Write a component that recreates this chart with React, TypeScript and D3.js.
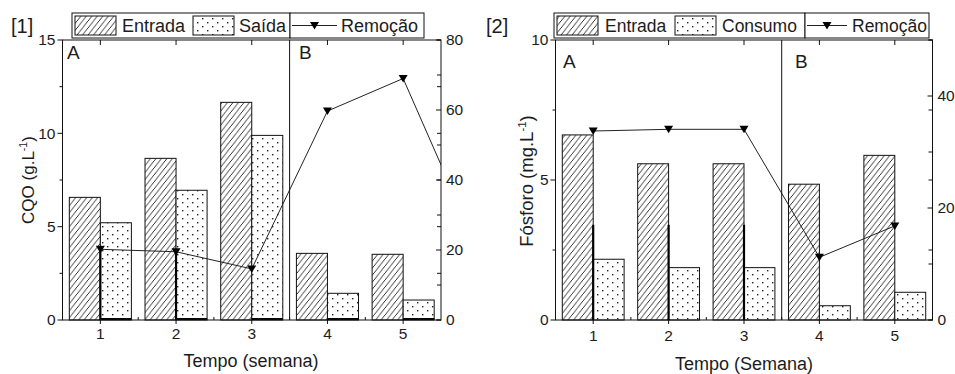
import React from 'react';
import * as d3 from 'd3';

// ---------- data ----------
const weeks = [1, 2, 3, 4, 5];

const cqoEntrada = [6.57, 8.66, 11.66, 3.57, 3.52];
const cqoSaida = [5.21, 6.95, 9.89, 1.43, 1.07];
const cqoRemocaoWeeks = [1, 2, 3, 4, 5, 6];
const cqoRemocao = [20.2, 19.5, 14.6, 59.7, 69.0, 19.7];
const cqoDropWeeks = [1, 2];

const fosEntrada = [6.61, 5.58, 5.58, 4.85, 5.88];
const fosConsumo = [2.17, 1.87, 1.87, 0.51, 0.99];
const fosRemocaoWeeks = [1, 2, 3, 4, 5];
const fosRemocao = [33.75, 34.05, 34.05, 11.2, 16.8];
const fosDropWeeks = [1, 2, 3];
const fosDropTop = 3.4; // thick edge starts here (left-axis units)

const cqoLeftTicks = [0, 5, 10, 15];
const cqoLeftMinor = [2.5, 7.5, 12.5];
const cqoRightTicks = [0, 20, 40, 60, 80];
const cqoRightMinor = [10, 30, 50, 70];

const fosLeftTicks = [0, 5, 10];
const fosLeftMinor = [2.5, 7.5];
const fosRightTicks = [0, 20, 40];
const fosRightMinor = [10, 30, 50];

const FONT = '"Liberation Sans", Arial, Helvetica, sans-serif';
const INK = '#1c1c1c';

type PanelProps = {
  id: string;
  left: number; right: number; top: number; bottom: number;
  leftDomain: [number, number]; rightDomain: [number, number];
  leftTicks: number[]; leftMinor: number[]; rightTicks: number[]; rightMinor: number[];
  entrada: number[]; saida: number[]; remWeeks: number[]; rem: number[]; drops: number[];
  dropTop: number | null;
  thickSaidaBottom: boolean;
  tag: string; tagX: number; tagY: number;
  abY: number; aX: number; bX: number; abSize: number;
  xTitle: string; xTitleX: number; xTitleY: number; xTickY: number;
  yTitle: string; yUnit: string; yTitleX: number; yTitleY: number; yTitleSize: number;
  legend: { x0: number; x1: number; div: number; y0: number; y1: number; sw1: number; t1x: number; sw2: number; t2x: number; lineX0: number; lineX1: number; t3x: number; size: number };
  name2: string;
};

function Panel(p: PanelProps) {
  const x = d3.scaleLinear().domain([0.5, 5.5]).range([p.left, p.right]);
  const y = d3.scaleLinear().domain(p.leftDomain).range([p.bottom, p.top]);
  const y2 = d3.scaleLinear().domain(p.rightDomain).range([p.bottom, p.top]);
  const step = x(2) - x(1);
  const bw = step * 0.41;
  const pts: [number, number][] = p.remWeeks.map((w, i) => [w, p.rem[i]]);
  const line = d3.line<[number, number]>().x(d => x(d[0])).y(d => y2(d[1]));
  const halfTicks = d3.range(1.5, 5.5, 1);
  const lg = p.legend;
  const lgMid = (lg.y0 + lg.y1) / 2;
  return (
    <g fontFamily={FONT} fill={INK}>
      <defs>
        <clipPath id={`clip-${p.id}`}>
          <rect x={p.left} y={p.top} width={p.right - p.left} height={p.bottom - p.top} />
        </clipPath>
      </defs>
      {/* bars */}
      {weeks.map((w, i) => (
        <g key={`b${w}`}>
          <rect x={x(w) - bw} y={y(p.entrada[i])} width={bw} height={y(0) - y(p.entrada[i])}
            fill="url(#hatch)" stroke="#111" strokeWidth={1} />
          <rect x={x(w)} y={y(p.saida[i])} width={bw} height={y(0) - y(p.saida[i])}
            fill="url(#dots)" stroke="#111" strokeWidth={1} />
          {p.thickSaidaBottom && (
            <line x1={x(w)} x2={x(w) + bw} y1={y(0) - 1} y2={y(0) - 1} stroke="#000" strokeWidth={2} />
          )}
        </g>
      ))}
      {/* drop lines */}
      {p.drops.map(w => (
        <line key={`d${w}`} x1={x(w)} x2={x(w)}
          y1={p.dropTop === null ? y2(p.rem[p.remWeeks.indexOf(w)]) : y(p.dropTop)} y2={y2(0)}
          stroke="#000" strokeWidth={2.2} />
      ))}
      {/* removal line */}
      <g clipPath={`url(#clip-${p.id})`}>
        <path d={line(pts) || ''} fill="none" stroke="#222" strokeWidth={1} />
        {pts.map((d, i) => (
          <path key={`m${i}`} transform={`translate(${x(d[0])},${y2(d[1])})`}
            d="M-4.5,-3.5 L4.5,-3.5 L0,4 Z" fill="#000" />
        ))}
      </g>
      {/* frame */}
      <rect x={p.left} y={p.top} width={p.right - p.left} height={p.bottom - p.top}
        fill="none" stroke="#111" strokeWidth={1} />
      <line x1={x(3.5)} x2={x(3.5)} y1={p.top} y2={p.bottom} stroke="#111" strokeWidth={1} />
      {/* bottom axis ticks */}
      {weeks.map(w => (
        <g key={`xt${w}`}>
          <line x1={x(w)} x2={x(w)} y1={p.bottom} y2={p.bottom + 4} stroke="#111" />
          <line x1={x(w)} x2={x(w)} y1={p.top} y2={p.top + 5} stroke="#111" />
          <text x={x(w)} y={p.xTickY} textAnchor="middle" fontSize={15.5}>{w}</text>
        </g>
      ))}
      {halfTicks.map(h => (
        <g key={`xh${h}`}>
          <line x1={x(h)} x2={x(h)} y1={p.bottom} y2={p.bottom - 3} stroke="#111" />
        </g>
      ))}
      {/* left axis */}
      {p.leftTicks.map(t => (
        <g key={`yl${t}`}>
          <line x1={p.left - 5} x2={p.left} y1={y(t)} y2={y(t)} stroke="#111" />
          <line x1={p.right - 4} x2={p.right} y1={y(t)} y2={y(t)} stroke="#111" />
          <text x={p.left - 7} y={y(t)} dy="0.35em" textAnchor="end" fontSize={15.5}>{t}</text>
        </g>
      ))}
      {p.leftMinor.map(t => (
        <g key={`ylm${t}`}>
          <line x1={p.left - 3} x2={p.left} y1={y(t)} y2={y(t)} stroke="#111" />
          <line x1={p.right - 4} x2={p.right} y1={y(t)} y2={y(t)} stroke="#111" />
        </g>
      ))}
      {/* right axis */}
      {p.rightTicks.map(t => (
        <g key={`yr${t}`}>
          <line x1={p.right - 5} x2={p.right} y1={y2(t)} y2={y2(t)} stroke="#111" />
          <text x={p.right + 5} y={y2(t)} dy="0.35em" textAnchor="start" fontSize={15.5}>{t}</text>
        </g>
      ))}
      {p.rightMinor.map(t => (
        <line key={`yrm${t}`} x1={p.right - 4} x2={p.right} y1={y2(t)} y2={y2(t)} stroke="#111" />
      ))}
      {/* panel letters */}
      <text x={p.aX} y={p.abY} fontSize={p.abSize}>A</text>
      <text x={p.bX} y={p.abY} fontSize={p.abSize}>B</text>
      {/* tag */}
      <text x={p.tagX} y={p.tagY} fontSize={20}>{p.tag}</text>
      {/* titles */}
      <text x={p.xTitleX} y={p.xTitleY} textAnchor="middle" fontSize={18}>{p.xTitle}</text>
      <text transform={`translate(${p.yTitleX},${p.yTitleY}) rotate(-90)`} textAnchor="middle" fontSize={p.yTitleSize}>
        {p.yTitle} ({p.yUnit}<tspan dy={-7} fontSize={p.yTitleSize * 0.62}>-1</tspan><tspan dy={7}>)</tspan>
      </text>
      {/* legend */}
      <rect x={lg.x0} y={lg.y0} width={lg.div - lg.x0} height={lg.y1 - lg.y0} fill="#fff" stroke="#111" />
      <rect x={lg.div} y={lg.y0} width={lg.x1 - lg.div} height={lg.y1 - lg.y0} fill="#fff" stroke="#111" />
      <rect x={lg.sw1} y={lg.y0 + 3} width={41} height={lg.y1 - lg.y0 - 6} fill="url(#hatch)" stroke="#111" />
      <text x={lg.t1x} y={lgMid} dy="0.36em" fontSize={lg.size}>Entrada</text>
      <rect x={lg.sw2} y={lg.y0 + 3} width={41} height={lg.y1 - lg.y0 - 6} fill="url(#dots)" stroke="#111" />
      <text x={lg.t2x} y={lgMid} dy="0.36em" fontSize={lg.size}>{p.name2}</text>
      <line x1={lg.lineX0} x2={lg.lineX1} y1={lgMid} y2={lgMid} stroke="#222" />
      <path transform={`translate(${(lg.lineX0 + lg.lineX1) / 2},${lgMid})`} d="M-4.5,-3.5 L4.5,-3.5 L0,4 Z" fill="#000" />
      <text x={lg.t3x} y={lgMid} dy="0.36em" fontSize={lg.size}>Remoção</text>
    </g>
  );
}

export default function App() {
  return (
    <svg width={955} height={374} viewBox="0 0 955 374"
      style={{ position: 'absolute', left: 0, top: 0, background: '#fff' }}>
      <defs>
        <pattern id="hatch" patternUnits="userSpaceOnUse" width={5.5} height={7}>
          <rect width={5.5} height={7} fill="#fff" />
          <path d="M-1,8.27 L6.5,-1.27" stroke="#1a1a1a" strokeWidth={0.9} />
        </pattern>
        <pattern id="dots" patternUnits="userSpaceOnUse" width={10} height={8}>
          <rect width={10} height={8} fill="#fff" />
          <rect x={2} y={2} width={1.4} height={1.4} fill="#222" />
          <rect x={7} y={6} width={1.4} height={1.4} fill="#222" />
        </pattern>
      </defs>
      <rect width={955} height={374} fill="#fff" />
      <Panel id="c1" left={62.5} right={441} top={40} bottom={320}
        leftDomain={[0, 15]} rightDomain={[0, 80]}
        leftTicks={cqoLeftTicks} leftMinor={cqoLeftMinor}
        rightTicks={cqoRightTicks} rightMinor={cqoRightMinor}
        entrada={cqoEntrada} saida={cqoSaida} remWeeks={cqoRemocaoWeeks} rem={cqoRemocao}
        drops={cqoDropWeeks} dropTop={null} thickSaidaBottom={true}
        tag="[1]" tagX={11} tagY={33}
        abY={59} aX={67} bX={299} abSize={19}
        xTitle="Tempo (semana)" xTitleX={251} xTitleY={367} xTickY={339}
        yTitle="CQO" yUnit="g.L" yTitleX={34} yTitleY={180} yTitleSize={17}
        legend={{ x0: 72, x1: 424, div: 290, y0: 13, y1: 38, sw1: 75, t1x: 122, sw2: 193, t2x: 239, lineX0: 292, lineX1: 337, t3x: 341, size: 18 }}
        name2="Saída" />
      <Panel id="c2" left={555.5} right={932.5} top={40} bottom={320}
        leftDomain={[0, 10]} rightDomain={[0, 50]}
        leftTicks={fosLeftTicks} leftMinor={fosLeftMinor}
        rightTicks={fosRightTicks} rightMinor={fosRightMinor}
        entrada={fosEntrada} saida={fosConsumo} remWeeks={fosRemocaoWeeks} rem={fosRemocao}
        drops={fosDropWeeks} dropTop={fosDropTop} thickSaidaBottom={false}
        tag="[2]" tagX={486} tagY={33}
        abY={68} aX={563} bX={795} abSize={19}
        xTitle="Tempo (Semana)" xTitleX={744} xTitleY={370} xTickY={341}
        yTitle="Fósforo" yUnit="mg.L" yTitleX={533} yTitleY={181} yTitleSize={18.5}
        legend={{ x0: 554, x1: 929, div: 805, y0: 13, y1: 38, sw1: 557, t1x: 605, sw2: 675, t2x: 722, lineX0: 807, lineX1: 847, t3x: 852, size: 17.5 }}
        name2="Consumo" />
    </svg>
  );
}
